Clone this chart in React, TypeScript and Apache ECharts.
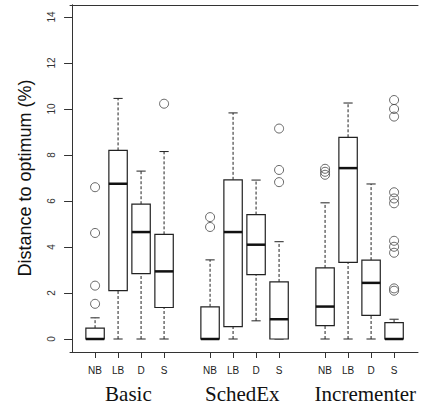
import React, { useEffect, useRef } from "react";
import * as echarts from "echarts";

const categories = ["NB", "LB", "D", "S", "NB", "LB", "D", "S", "NB", "LB", "D", "S"];
const positions = [1, 2, 3, 4, 6, 7, 8, 9, 11, 12, 13, 14];
const groups = ["Basic", "SchedEx", "Incrementer"];
const groupPositions = [2.45, 7.4, 12.75];

const whiskerLow = [0, 0, 0, 0, 0, 0, 0.79, 0, 0, 0, 0, 0];
const q1 = [0, 2.1, 2.84, 1.37, 0, 0.54, 2.8, 0, 0.58, 3.33, 1.03, 0];
const median = [0, 6.75, 4.65, 2.94, 0, 4.65, 4.1, 0.86, 1.41, 7.43, 2.44, 0];
const q3 = [0.47, 8.2, 5.86, 4.55, 1.4, 6.92, 5.41, 2.48, 3.09, 8.77, 3.43, 0.71];
const whiskerHigh = [0.92, 10.46, 7.3, 8.15, 3.44, 9.83, 6.91, 4.23, 5.92, 10.26, 6.74, 0.86];
const outliers: number[][] = [
  [1.53, 2.32, 4.61, 6.6],
  [],
  [],
  [10.23],
  [4.87, 5.3],
  [],
  [],
  [6.82, 7.35, 9.15],
  [7.14, 7.27, 7.4],
  [],
  [],
  [2.1, 2.2, 3.75, 4.01, 4.27, 5.9, 6.11, 6.38, 9.67, 10.0, 10.39],
];

const INK = "#222";
const FRAME = "#333";

export default function App() {
  const ref = useRef<HTMLDivElement>(null);
  useEffect(() => {
    document.body.style.margin = "0";
    const chart = echarts.init(ref.current!, null, { renderer: "svg" });
    const boxData = positions.map((p, i) => [p, whiskerLow[i], q1[i], median[i], q3[i], whiskerHigh[i]]);
    const outData: number[][] = [];
    outliers.forEach((arr, i) => arr.forEach((v) => outData.push([positions[i], v])));

    const frameAxis = { show: true, lineStyle: { color: FRAME, width: 1 } };

    chart.setOption({
      animation: false,
      grid: [
        // data grid: y from 0 to 14
        { left: 70, right: 4, top: 17, bottom: 68 },
        // frame grid (R's box, extended by 4%)
        { left: 70, right: 4, top: 5, bottom: 55 },
      ],
      xAxis: [
        {
          type: "value",
          gridIndex: 0,
          min: -0.09,
          max: 15.04,
          axisLine: { show: false },
          splitLine: { show: false },
          axisTick: { show: false },
          axisLabel: { show: false },
        },
        {
          type: "value",
          gridIndex: 1,
          min: -0.09,
          max: 15.04,
          position: "bottom",
          axisLine: frameAxis,
          splitLine: { show: false },
          axisTick: { show: true, customValues: positions, length: 6, lineStyle: { color: FRAME } },
          axisLabel: {
            customValues: positions,
            formatter: (v: number) => categories[positions.indexOf(v)] ?? "",
            fontFamily: "Liberation Sans",
            fontSize: 10,
            color: INK,
            margin: 13,
          },
        },
        {
          type: "value",
          gridIndex: 1,
          min: -0.09,
          max: 15.04,
          position: "bottom",
          axisLine: { show: false },
          splitLine: { show: false },
          axisTick: { show: false },
          axisLabel: {
            customValues: groupPositions,
            formatter: (v: number) => groups[groupPositions.indexOf(v)] ?? "",
            fontFamily: "Liberation Serif",
            fontSize: 21,
            color: "#111",
            margin: 31,
          },
        },
        {
          type: "value",
          gridIndex: 1,
          min: 0,
          max: 1,
          position: "top",
          axisLine: frameAxis,
          splitLine: { show: false },
          axisTick: { show: false },
          axisLabel: { show: false },
        },
      ],
      yAxis: [
        {
          type: "value",
          gridIndex: 0,
          min: 0,
          max: 14,
          interval: 2,
          axisLine: { show: false },
          splitLine: { show: false },
          axisTick: { show: true, length: 8, lineStyle: { color: FRAME } },
          axisLabel: {
            rotate: 90,
            fontFamily: "Liberation Sans",
            fontSize: 10,
            color: "#333",
            margin: 14,
          },
          name: "Distance to optimum (%)",
          nameLocation: "middle",
          nameGap: 36,
          nameTextStyle: { fontFamily: "Liberation Sans", fontSize: 18, color: "#111" },
        },
        {
          type: "value",
          gridIndex: 1,
          min: 0,
          max: 1,
          position: "left",
          axisLine: frameAxis,
          splitLine: { show: false },
          axisTick: { show: false },
          axisLabel: { show: false },
        },
        {
          type: "value",
          gridIndex: 1,
          min: 0,
          max: 1,
          position: "right",
          axisLine: frameAxis,
          splitLine: { show: false },
          axisTick: { show: false },
          axisLabel: { show: false },
        },
      ],
      series: [
        {
          type: "custom",
          xAxisIndex: 0,
          yAxisIndex: 0,
          encode: { x: 0, y: [1, 2, 3, 4, 5] },
          data: boxData,
          clip: false,
          renderItem: (params: any, api: any) => {
            const x = api.value(0);
            const pLow = api.coord([x, api.value(1)]);
            const pQ1 = api.coord([x, api.value(2)]);
            const pMed = api.coord([x, api.value(3)]);
            const pQ3 = api.coord([x, api.value(4)]);
            const pHigh = api.coord([x, api.value(5)]);
            const halfW = api.size([0.8, 0])[0] / 2;
            const capW = halfW / 2;
            const cx = pMed[0];
            const solid = { stroke: INK, lineWidth: 1, fill: "none" };
            const dashed = { stroke: INK, lineWidth: 1, lineDash: [3, 2] };
            return {
              type: "group",
              children: [
                { type: "line", shape: { x1: cx, y1: pQ3[1], x2: cx, y2: pHigh[1] }, style: dashed },
                { type: "line", shape: { x1: cx, y1: pLow[1], x2: cx, y2: pQ1[1] }, style: dashed },
                { type: "line", shape: { x1: cx - capW, y1: pHigh[1], x2: cx + capW, y2: pHigh[1] }, style: solid },
                { type: "line", shape: { x1: cx - capW, y1: pLow[1], x2: cx + capW, y2: pLow[1] }, style: solid },
                {
                  type: "rect",
                  shape: { x: cx - halfW, y: pQ3[1], width: halfW * 2, height: pQ1[1] - pQ3[1] },
                  style: { stroke: INK, lineWidth: 1.2, fill: "#fff" },
                },
                { type: "line", shape: { x1: cx - halfW, y1: pMed[1], x2: cx + halfW, y2: pMed[1] }, style: { stroke: "#111", lineWidth: 2.5 } },
              ],
            };
          },
        },
        {
          type: "scatter",
          xAxisIndex: 0,
          yAxisIndex: 0,
          data: outData,
          clip: false,
          symbol: "circle",
          symbolSize: 9,
          itemStyle: { color: "transparent", borderColor: "#444", borderWidth: 1 },
        },
      ],
    });
    return () => chart.dispose();
  }, []);
  return <div ref={ref} style={{ width: 422, height: 407 }} />;
}
